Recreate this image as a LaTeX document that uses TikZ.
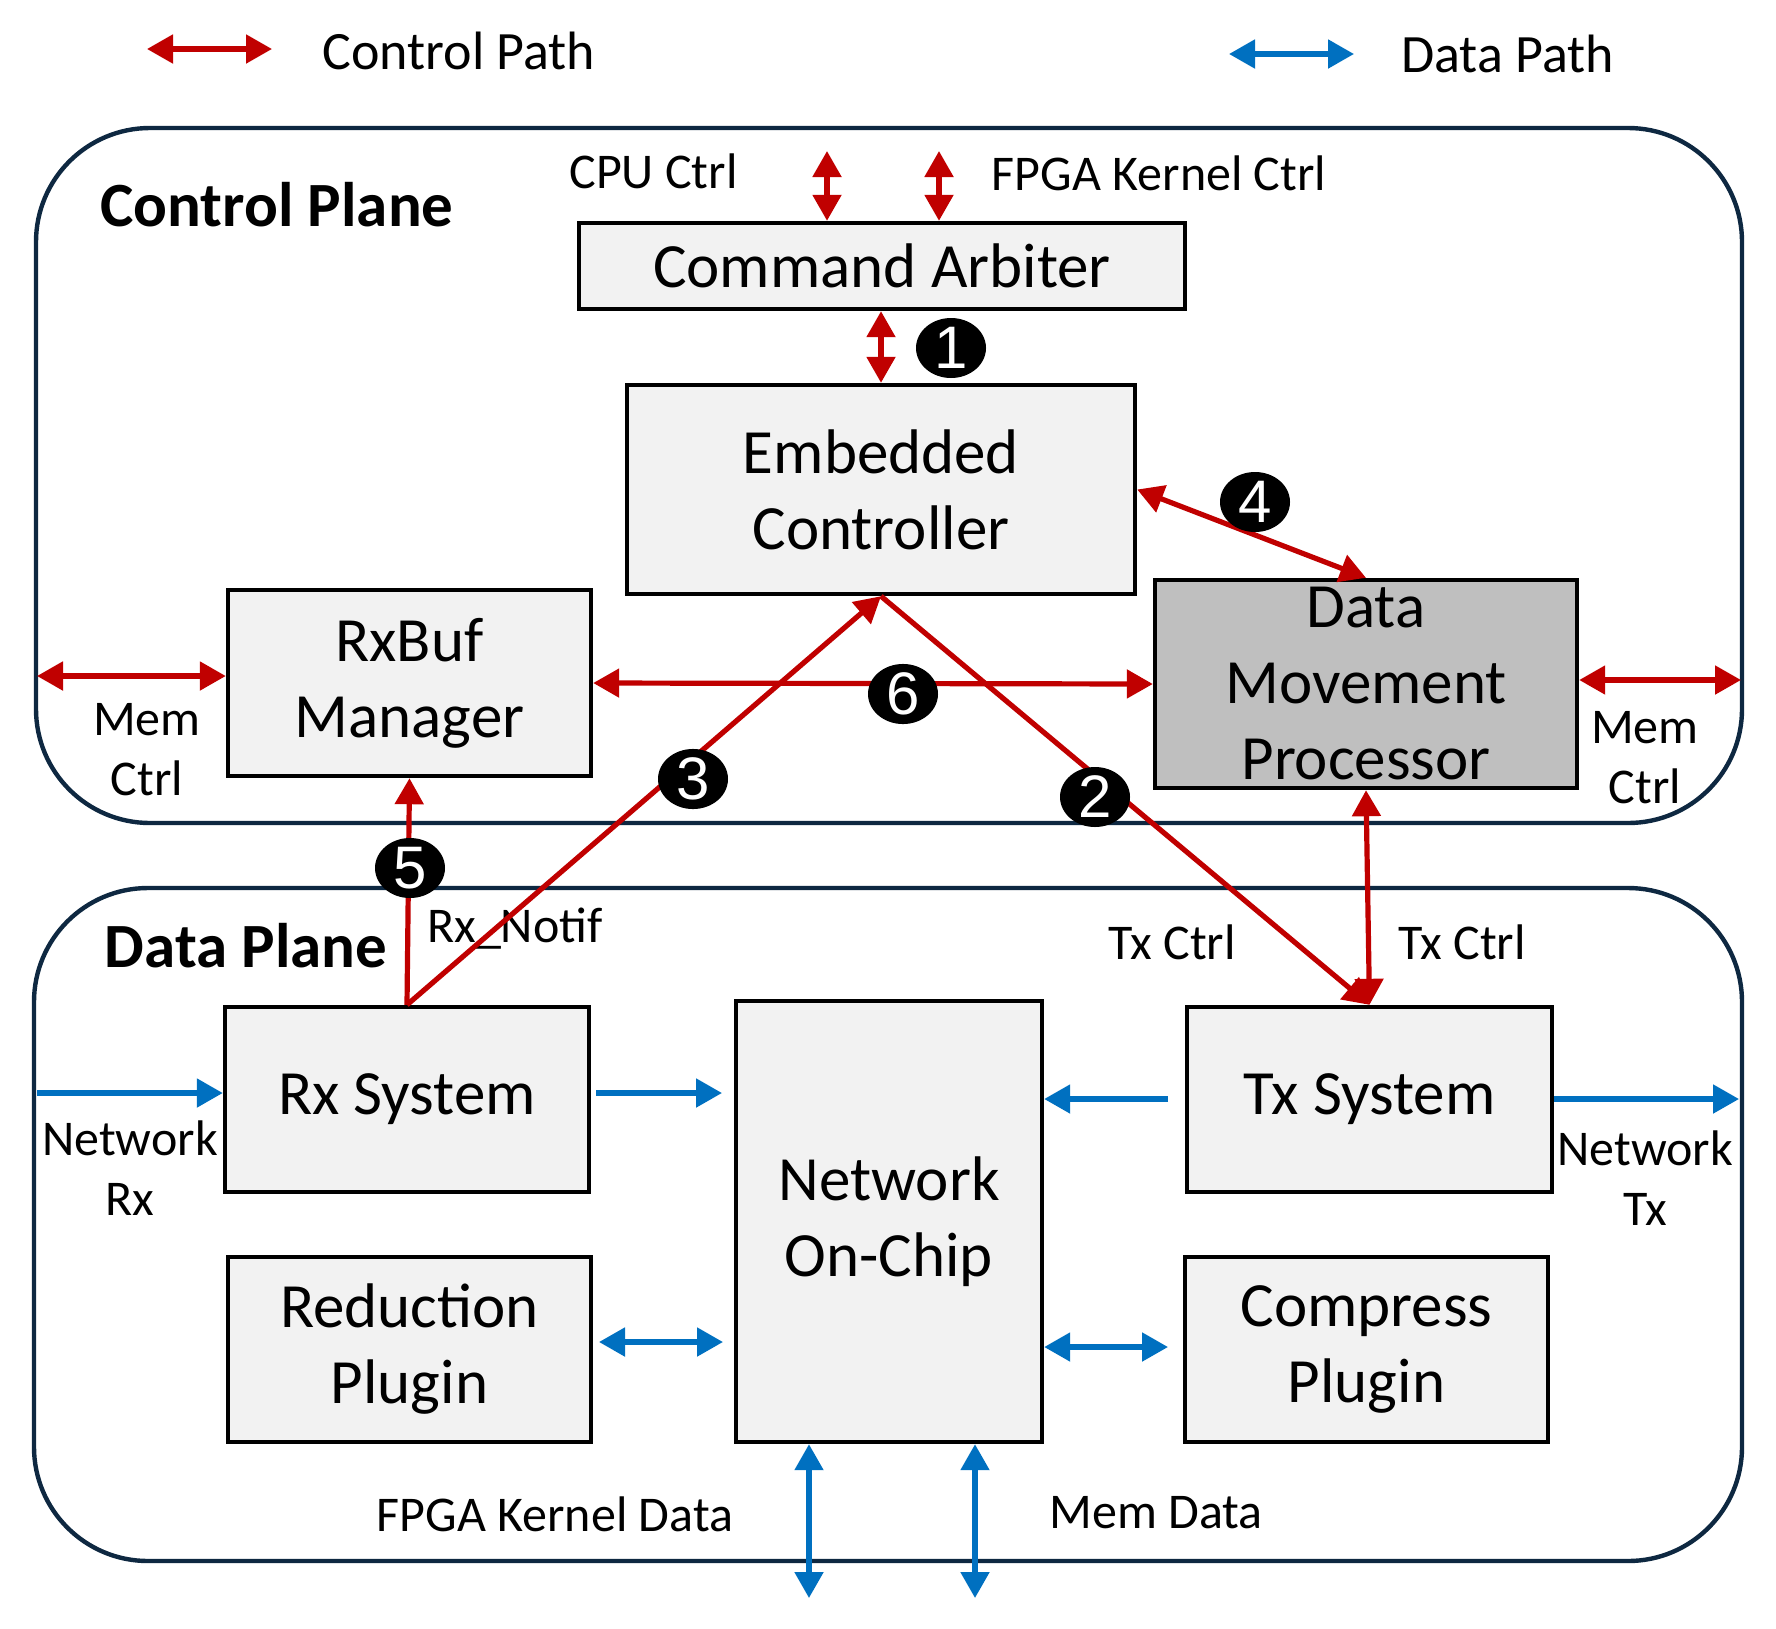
\documentclass[tikz,border=0pt]{standalone}
\usepackage{fontspec}
\setmainfont{Carlito}
\newfontfamily\digitfont{Liberation Sans}
\usetikzlibrary{arrows.meta,shapes.geometric,calc}
\definecolor{cred}{HTML}{C00000}
\definecolor{cblue}{HTML}{0070C0}
\definecolor{cnavy}{HTML}{0E2841}
\definecolor{boxfill}{HTML}{F2F2F2}
\definecolor{dmpfill}{HTML}{BFBFBF}
\tikzset{
  >={Triangle[length=13pt,width=14pt]},
  ctrl/.style={draw=cred, line width=2.6pt},
  dat/.style={draw=cblue, line width=2.6pt},
  plane/.style={draw=cnavy, line width=2.2pt, rounded corners=57pt},
  box/.style={draw=black, line width=2.2pt, fill=boxfill, inner sep=0pt, align=center,
    font=\fontsize{31.5pt}{38pt}\selectfont},
  lbl/.style={inner sep=0pt, align=center, font=\fontsize{25pt}{30pt}\selectfont},
  leg/.style={inner sep=0pt, font=\fontsize{27pt}{32pt}\selectfont},
  ttl/.style={inner sep=0pt, font=\bfseries\fontsize{31.5pt}{38pt}\selectfont},
  num/.style={ellipse, fill=black, minimum width=35pt, minimum height=30pt, inner sep=0pt,
    text=white, font=\digitfont\fontsize{30pt}{30pt}\selectfont}
}
\begin{document}
\begin{tikzpicture}[x=0.5pt,y=-0.5pt]
\useasboundingbox (0,0) rectangle (1776,1628);
% planes
\draw[plane] (36,128) rectangle (1742,823);
\draw[plane] (34,888) rectangle (1742,1561);
\node[ttl] (cpl) at (277,205) {Control Plane};
\node[ttl] (dpl) at (246,946) {Data Plane};
% legend
\coordinate (lr1) at (147,49); \coordinate (lr2) at (272,49);
\draw[ctrl,<->] (lr1) -- (lr2);
\node[leg] (lct) at (459,51) {Control Path};
\coordinate (lb1) at (1229,54); \coordinate (lb2) at (1354,54);
\draw[dat,<->] (lb1) -- (lb2);
\node[leg] (ldt) at (1507.5,54) {Data Path};
% boxes
\node[box, minimum width=303pt, minimum height=43pt] (ca) at (882,266) {Command Arbiter};
\node[box, minimum width=254pt, minimum height=104.5pt] (ec) at (881,489.5) {Embedded\\Controller};
\node[box, minimum width=181.5pt, minimum height=93pt] (rb) at (409.5,683) {RxBuf\\Manager};
\node[box, fill=dmpfill, minimum width=211pt, minimum height=104pt] (dmp) at (1366,684) {Data\\Movement\\Processor};
\node[box, minimum width=182pt, minimum height=92.5pt] (rx) at (407,1099.5) {Rx System};
\node[box, minimum width=153pt, minimum height=220.5pt] (noc) at (889,1221.5) {Network\\On-Chip};
\node[box, minimum width=182.5pt, minimum height=92.5pt] (tx) at (1369.5,1099.5) {Tx System};
\node[box, minimum width=181.5pt, minimum height=92.5pt] (red) at (409.5,1349.5) {Reduction\\Plugin};
\node[box, minimum width=181.5pt, minimum height=92.5pt] (cmp) at (1366.5,1349.5) {Compress\\Plugin};
% labels
\node[lbl] (cpu) at (653.5,171) {CPU Ctrl};
\node[lbl] (fpk) at (1159,173) {FPGA Kernel Ctrl};
\node[lbl] (mcl) at (147,749.5) {Mem\\Ctrl};
\node[lbl] (mcr) at (1645,757.5) {Mem\\Ctrl};
\node[lbl] (rxn) at (515,929) {Rx\_Notif};
\node[lbl] (txc1) at (1172,942) {Tx Ctrl};
\node[lbl] (txc2) at (1462,942) {Tx Ctrl};
\node[lbl] (nrxl) at (130,1168) {Network\\Rx};
\node[lbl] (ntxl) at (1645,1178) {Network\\Tx};
\node[lbl] (fkd) at (555,1514) {FPGA Kernel Data};
\node[lbl] (mdt) at (1156,1513) {Mem Data};
% control arrows
\coordinate (cpuA) at (827,151);
\coordinate (fpgaA) at (939,151);
\draw[ctrl,<->] (cpuA) -- (cpuA |- ca.north);
\draw[ctrl,<->] (fpgaA) -- (fpgaA |- ca.north);
\draw[ctrl,<->] (ca.south -| ec.north) -- (ec.north);
\draw[ctrl,<->] (ec.east) -- (dmp.north);
\draw[ctrl,<->] (rb.east) -- (dmp.west);
\coordinate (mlA) at (37,676);
\draw[ctrl,<->] (mlA) -- (mlA -| rb.west);
\coordinate (mrA) at (1741,680);
\draw[ctrl,<->] (mrA -| dmp.east) -- (mrA);
\draw[ctrl,->] (rx.north) -- (ec.south);
\draw[ctrl,->] (rx.north) -- (rb.south);
\draw[ctrl,->] (ec.south) -- (tx.north);
\draw[ctrl,<->] (dmp.south) -- (tx.north);
% data arrows
\coordinate (nrxA) at (37,1093);
\draw[dat,->] (nrxA) -- (nrxA -| rx.west);
\coordinate (r1) at (596,1093); \coordinate (r2) at (722,1093);
\draw[dat,->] (r1) -- (r2);
\coordinate (t1) at (1168,1099);
\draw[dat,->] (t1) -- (t1 -| noc.east);
\coordinate (ntxA) at (1739,1099);
\draw[dat,->] (ntxA -| tx.east) -- (ntxA);
\coordinate (p1) at (599,1342); \coordinate (p2) at (723,1342);
\draw[dat,<->] (p1) -- (p2);
\coordinate (c1) at (1168,1347);
\draw[dat,<->] (c1 -| noc.east) -- (c1);
\coordinate (b1) at (809,1598); \coordinate (b2) at (975,1598);
\draw[dat,<->] (b1 |- noc.south) -- (b1);
\draw[dat,<->] (b2 |- noc.south) -- (b2);
% step numbers
\node[num] (n1) at (951,348) {1};
\node[num] (n2) at (1095,797) {2};
\node[num] (n3) at (693,779) {3};
\node[num] (n4) at (1255,502) {4};
\node[num] (n5) at (410,868) {5};
\node[num] (n6) at (903,694) {6};
\end{tikzpicture}
\end{document}
